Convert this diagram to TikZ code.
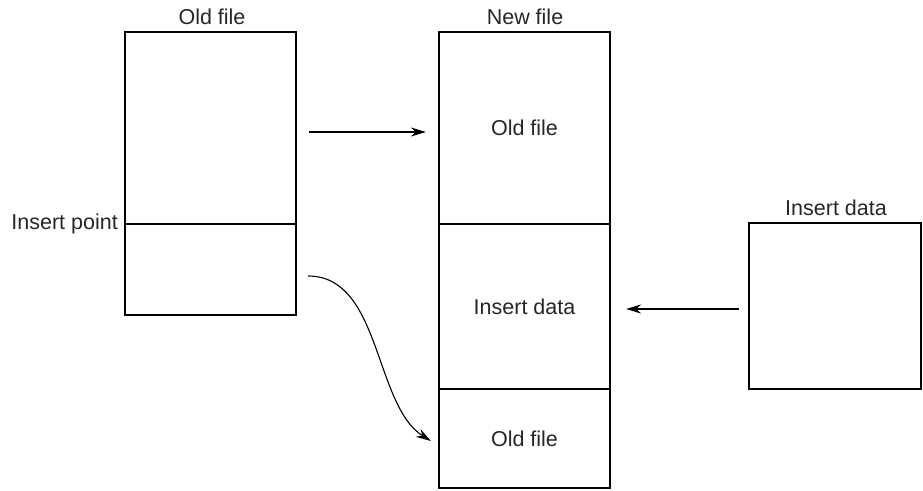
\documentclass[tikz,border=0pt]{standalone}
\usepackage{fontspec}
\setmainfont{Liberation Sans}
\usetikzlibrary{arrows.meta,calc}
\begin{document}
\begin{tikzpicture}[x=1pt,y=-1pt,
  box/.style={draw, line width=2.2pt, inner sep=0pt, rectangle},
  lbl/.style={font=\fontsize{21.5}{25}\selectfont, text=black!85, inner sep=0pt},
  conn/.style={line width=1.1pt, -{Stealth[length=15pt,width=9pt]}}]
\useasboundingbox (0,0) rectangle (923,490);
% old file
\node[box, minimum width=171pt, minimum height=192pt] (oldtop) at (210.5,128) {};
\node[box, minimum width=171pt, minimum height=91pt] (oldbot) at (210.5,269.5) {};
\node[lbl] (oldlbl) at (212,17) {Old file};
\node[lbl, anchor=east] (inspt) at (118,224) {Insert point};
% new file
\node[box, minimum width=171pt, minimum height=192pt, lbl] (newtop) at (524.5,128) {Old file};
\node[box, minimum width=171pt, minimum height=165pt, lbl] (newmid) at (524.5,306.5) {Insert data};
\node[box, minimum width=171pt, minimum height=99pt, lbl] (newbot) at (524.5,438.5) {Old file};
\node[lbl] (newlbl) at (525,17) {New file};
% insert data
\node[box, minimum width=172pt, minimum height=166pt] (insbox) at (835,306) {};
\node[lbl] (inslbl) at (836,208) {Insert data};
% connectors
\coordinate (a1s) at ($(oldtop.east)+(12,4)$);
\coordinate (a1e) at ($(newtop.west)+(-12,4)$);
\draw[conn] (a1s) -- (a1e);
\coordinate (a2s) at ($(insbox.west)+(-9,3)$);
\coordinate (a2e) at ($(newmid.east)+(15,2.5)$);
\draw[conn] (a2s) -- (a2e);
\coordinate (a3s) at ($(oldbot.east)+(11,6.5)$);
\coordinate (a3e) at ($(newbot.west)+(-7,2.5)$);
\draw[conn] (a3s) .. controls ($(a3s)+(73,0)$) and ($(a3e)+(-57,-36)$) .. (a3e);
\end{tikzpicture}
\end{document}
